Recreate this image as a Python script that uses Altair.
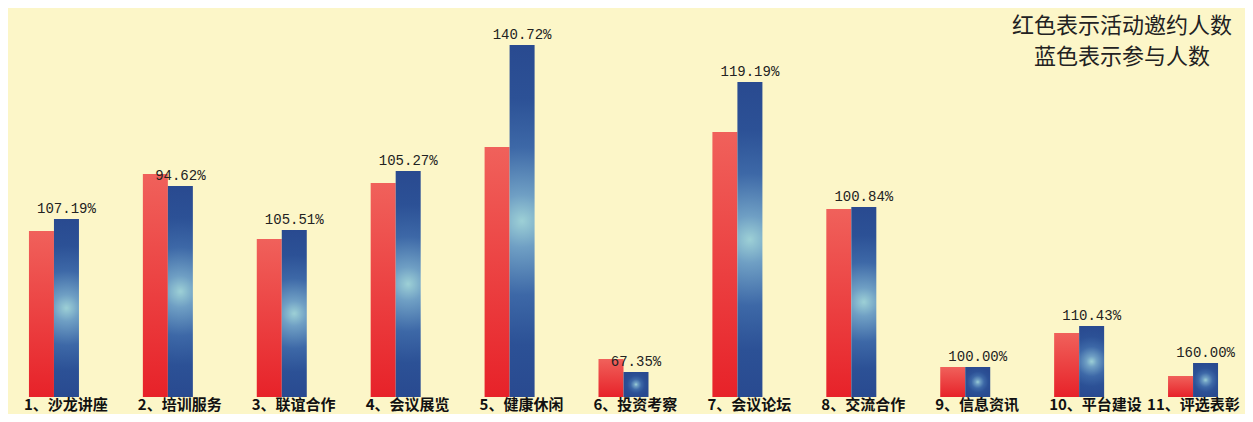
import altair as alt
import pandas as pd

CATEGORIES = ["1、沙龙讲座", "2、培训服务", "3、联谊合作", "4、会议展览", "5、健康休闲",
              "6、投资考察", "7、会议论坛", "8、交流合作", "9、信息资讯", "10、平台建设", "11、评选表彰"]
INVITED = [166, 223, 158, 214, 250, 38, 265, 188, 30, 64, 21]
PARTICIPANTS = [178, 211, 167, 226, 352, 25, 315, 190, 30, 71, 34]
RATE_LABELS = ["107.19%", "94.62%", "105.51%", "105.27%", "140.72%", "67.35%",
               "119.19%", "100.84%", "100.00%", "110.43%", "160.00%"]
SERIES = ["活动邀约人数", "参与人数"]
LEGEND_LINES = ["红色表示活动邀约人数", "蓝色表示参与人数"]

rows = []
for i, c in enumerate(CATEGORIES):
    rows.append({"cat": c, "series": SERIES[0], "value": INVITED[i], "rate": ""})
    rows.append({"cat": c, "series": SERIES[1], "value": PARTICIPANTS[i], "rate": RATE_LABELS[i]})
df = pd.DataFrame(rows)

last_cat = CATEGORIES[-1]
x_enc = alt.X("cat:N", sort=CATEGORIES, title=None,
              scale=alt.Scale(range=[-11, 1242], paddingInner=0.561, paddingOuter=0.2805),
              axis=alt.Axis(domain=False, ticks=False, labelAngle=0, labelAlign="left",
                            labelOffset={"condition": {"test": f"datum.value === '{last_cat}'", "value": -46},
                                         "value": -30},
                            labelPadding=0, labelBaseline="top",
                            labelFont="Noto Sans CJK SC", labelFontWeight="bold",
                            labelFontSize=15, labelColor="#111111", labelOverlap=False,
                            labelLimit=0))
xo_enc = alt.XOffset("series:N", sort=SERIES, scale=alt.Scale(domain=SERIES, paddingInner=0, paddingOuter=0))
y_enc = alt.Y("value:Q", title=None, scale=alt.Scale(domain=[0, 389], nice=False), axis=None)

base = alt.Chart(df)

red_grad = alt.Gradient(gradient="linear", x1=0, y1=0, x2=0, y2=1,
                        stops=[alt.GradientStop(color="#f0615b", offset=0),
                               alt.GradientStop(color="#e72229", offset=1)])
blue_grad = alt.Gradient(gradient="radial", x1=0.5, y1=0.5, r1=0, x2=0.5, y2=0.5, r2=0.5,
                         stops=[alt.GradientStop(color="#9dd0d6", offset=0),
                                alt.GradientStop(color="#6f9fc4", offset=0.15),
                                alt.GradientStop(color="#3d68a7", offset=0.42),
                                alt.GradientStop(color="#2c5196", offset=0.7),
                                alt.GradientStop(color="#294a90", offset=1)])

red_bars = base.transform_filter(alt.datum.series == SERIES[0]).mark_bar(
    color=red_grad).encode(x=x_enc, xOffset=xo_enc, y=y_enc)
blue_bars = base.transform_filter(alt.datum.series == SERIES[1]).mark_bar(
    color=blue_grad).encode(x=x_enc, xOffset=xo_enc, y=y_enc)
rate_text = base.transform_filter(alt.datum.series == SERIES[1]).mark_text(
    font="Liberation Mono", fontSize=14, color="#222222", baseline="bottom", dy=-3
).encode(x=x_enc, xOffset=xo_enc, y=y_enc, text="rate:N")

legend_text = alt.Chart(pd.DataFrame({"a": [0]})).mark_text(
    font="Noto Sans CJK SC", fontSize=22, color="#222222", align="center",
    baseline="top", lineHeight=31
).encode(x=alt.value(1114), y=alt.value(8), text=alt.value(LEGEND_LINES))

chart = alt.layer(red_bars, blue_bars, rate_text, legend_text).properties(
    width=1237, height=389, background="#fcf6c8",
    padding={"left": 0, "top": 0, "right": 0, "bottom": 17},
    autosize=alt.AutoSizeParams(type="none")
).configure_view(stroke=None)

chart.save("out.html", embed_options={"renderer": "svg", "actions": False})
